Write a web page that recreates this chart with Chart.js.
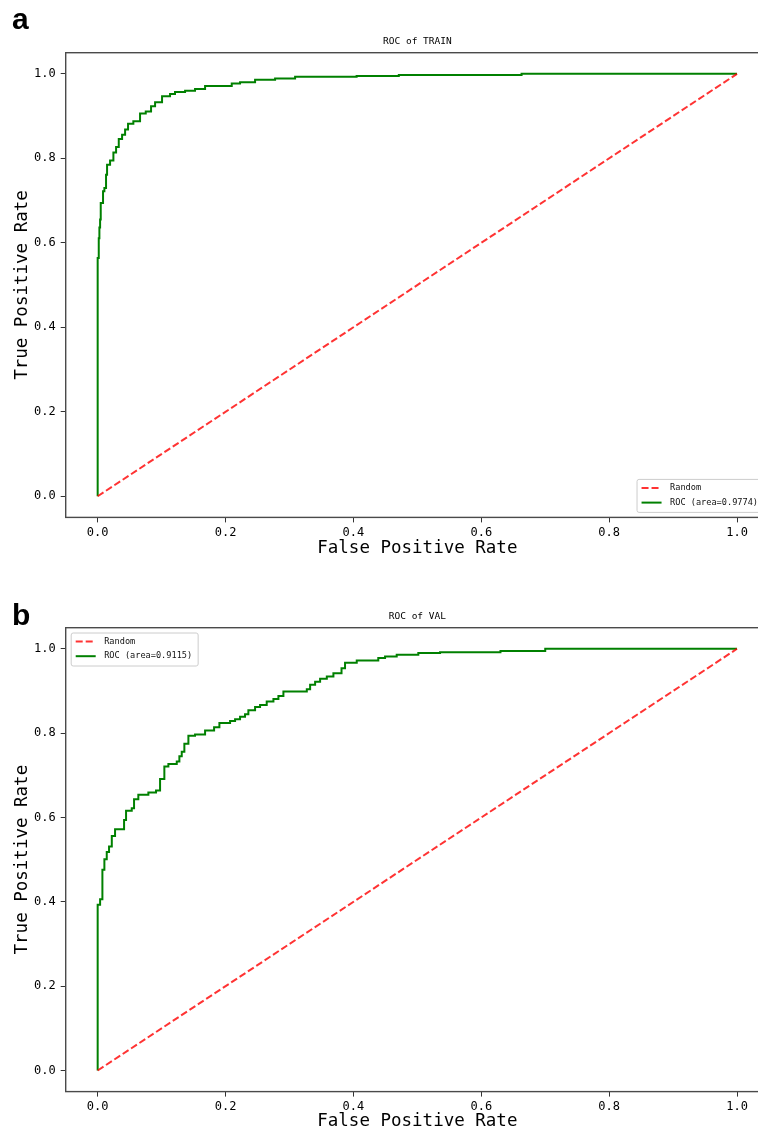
<!DOCTYPE html>
<html><head><meta charset="utf-8">
<script src="https://cdn.jsdelivr.net/npm/chart.js@4.4.0/dist/chart.umd.min.js"></script>
<style>
html,body{margin:0;padding:0;background:#fff;}
#wrap{width:758px;height:1132px;overflow:hidden;position:relative;background:#fff;}
canvas{position:absolute;left:0;}
</style></head><body>
<div id="wrap">
<canvas id="cA" width="772" height="566" style="top:0;width:772px;height:566px"></canvas>
<canvas id="cB" width="772" height="566" style="top:566px;width:772px;height:566px"></canvas>
</div>
<script>
// ---- data ----
const tickValues = [0, 0.2, 0.4, 0.6, 0.8, 1.0];
const tickLabels = ['0.0', '0.2', '0.4', '0.6', '0.8', '1.0'];
const randomFpr = [0, 1];
const randomTpr = [0, 1];
const trainFpr = [0, 0, 0.0017, 0.0027, 0.0038, 0.0048, 0.0084, 0.0105, 0.0131, 0.0147, 0.0194, 0.0246, 0.0288, 0.033, 0.0382, 0.0429, 0.0475, 0.0558, 0.0663, 0.0752, 0.0835, 0.0898, 0.1007, 0.1132, 0.121, 0.1367, 0.1523, 0.168, 0.2097, 0.2227, 0.2462, 0.2775, 0.3088, 0.405, 0.471, 0.663, 1.0];
const trainTpr = [0, 0.564, 0.611, 0.636, 0.655, 0.694, 0.722, 0.730, 0.761, 0.785, 0.795, 0.814, 0.827, 0.846, 0.856, 0.868, 0.882, 0.888, 0.906, 0.911, 0.923, 0.933, 0.947, 0.952, 0.957, 0.960, 0.964, 0.971, 0.977, 0.980, 0.986, 0.989, 0.993, 0.995, 0.997, 1.0, 1.0];
const valFpr = [0, 0, 0.0038, 0.0074, 0.0105, 0.0142, 0.0178, 0.0221, 0.0272, 0.0413, 0.0444, 0.0533, 0.0569, 0.0636, 0.0793, 0.0913, 0.0976, 0.1043, 0.1106, 0.1237, 0.1278, 0.1315, 0.1356, 0.1419, 0.1523, 0.168, 0.1821, 0.1904, 0.2071, 0.2149, 0.2227, 0.2305, 0.2357, 0.2462, 0.254, 0.2644, 0.2749, 0.2827, 0.2905, 0.3271, 0.3323, 0.3401, 0.3479, 0.3584, 0.3687, 0.3814, 0.3869, 0.4052, 0.4389, 0.4495, 0.4677, 0.5015, 0.5355, 0.63, 0.70, 1.0];
const valTpr = [0, 0.393, 0.406, 0.476, 0.501, 0.518, 0.531, 0.556, 0.572, 0.594, 0.616, 0.622, 0.643, 0.654, 0.659, 0.664, 0.691, 0.721, 0.727, 0.733, 0.745, 0.756, 0.775, 0.794, 0.797, 0.806, 0.814, 0.824, 0.829, 0.833, 0.839, 0.845, 0.854, 0.862, 0.867, 0.875, 0.881, 0.888, 0.899, 0.904, 0.915, 0.922, 0.929, 0.934, 0.942, 0.954, 0.967, 0.972, 0.978, 0.982, 0.986, 0.990, 0.992, 0.995, 1.0, 1.0];
const trainAuc = '0.9774';
const valAuc = '0.9115';

const MONO = '"DejaVu Sans Mono", "Liberation Mono", monospace';
const toPts = (xs, ys) => xs.map((x, i) => ({x: x, y: ys[i]}));

const framePlugin = {
  id: 'frame',
  afterDraw(chart, args, opts) {
    const ctx = chart.ctx, a = chart.chartArea;
    ctx.save();
    // spines
    ctx.strokeStyle = '#4a4a4a';
    ctx.lineWidth = 1.4;
    ctx.setLineDash([]);
    ctx.strokeRect(a.left, a.top, a.right - a.left, a.bottom - a.top);
    // legend
    ctx.font = '8.6px ' + MONO;
    const ds = chart.data.datasets;
    const tw = Math.max(...ds.map(d => ctx.measureText(d.label).width));
    const w = 33 + tw + 6, h = 33;
    let x0, y0;
    if (opts.legendPos === 'lower right') { x0 = a.right - 5 - w; y0 = a.bottom - 5 - h; }
    else { x0 = a.left + 5.5; y0 = a.top + 5.3; }
    ctx.beginPath();
    if (ctx.roundRect) ctx.roundRect(x0, y0, w, h, 2); else ctx.rect(x0, y0, w, h);
    ctx.fillStyle = 'rgba(255,255,255,0.85)';
    ctx.fill();
    ctx.strokeStyle = '#cccccc';
    ctx.lineWidth = 1;
    ctx.stroke();
    ds.forEach((d, i) => {
      const yy = y0 + 8.6 + i * 14.6;
      ctx.beginPath();
      ctx.setLineDash(d.borderDash || []);
      ctx.strokeStyle = d.borderColor;
      ctx.lineWidth = d.borderWidth;
      ctx.moveTo(x0 + 4.5, yy);
      ctx.lineTo(x0 + 24.5, yy);
      ctx.stroke();
      ctx.setLineDash([]);
      ctx.fillStyle = '#111';
      ctx.textBaseline = 'middle';
      ctx.textAlign = 'left';
      ctx.fillText(d.label, x0 + 33, yy);
    });
    // panel letter
    ctx.fillStyle = '#000';
    ctx.font = 'bold 30px "Liberation Sans", Arial, sans-serif';
    ctx.textBaseline = 'alphabetic';
    ctx.fillText(opts.letter, 12, opts.letterY);
    ctx.restore();
  }
};

function makeChart(id, c) {
  return new Chart(document.getElementById(id), {
    type: 'scatter',
    data: {
      datasets: [
        {label: 'Random', data: toPts(randomFpr, randomTpr), showLine: true, borderColor: 'rgba(255,0,0,0.8)', borderWidth: 2, borderDash: [7, 3], pointRadius: 0, tension: 0},
        {label: 'ROC (area=' + c.auc + ')', data: toPts(c.fpr, c.tpr), showLine: true, stepped: true, borderColor: '#008000', borderWidth: 2, pointRadius: 0, tension: 0}
      ]
    },
    options: {
      responsive: false,
      devicePixelRatio: 1,
      animation: false,
      layout: {padding: {left: 0, right: 3, top: 0, bottom: 0}},
      plugins: {
        legend: {display: false},
        tooltip: {enabled: false},
        title: {display: true, fullSize: false, text: c.title, color: '#000', font: {family: MONO, size: 9.5, weight: 'normal', lineHeight: 1.2}, padding: {top: c.titleTop, bottom: c.titleBottom}},
        frame: {legendPos: c.legendPos, letter: c.letter, letterY: c.letterY}
      },
      scales: {
        x: {
          type: 'linear', min: -0.05, max: 1.05,
          afterBuildTicks: s => { s.ticks = tickValues.map(v => ({value: v})); },
          afterFit: s => { s.height = c.xHeight; },
          ticks: {callback: (v, i) => tickLabels[i], color: '#000', font: {family: MONO, size: 12}, padding: 3, maxRotation: 0, autoSkip: false},
          grid: {drawOnChartArea: false, drawTicks: true, tickLength: 5, tickColor: '#333', tickWidth: 1},
          border: {display: false},
          title: {display: true, text: 'False Positive Rate', color: '#000', font: {family: MONO, size: 17.5, lineHeight: 1.2}, padding: {top: 0, bottom: c.xTitlePad}}
        },
        y: {
          type: 'linear', min: -0.05, max: 1.05,
          afterBuildTicks: s => { s.ticks = tickValues.map(v => ({value: v})); },
          afterFit: s => { s.width = 65.7; },
          ticks: {callback: (v, i) => tickLabels[i], color: '#000', font: {family: MONO, size: 12}, padding: 5, autoSkip: false},
          grid: {drawOnChartArea: false, drawTicks: true, tickLength: 5, tickColor: '#333', tickWidth: 1},
          border: {display: false},
          title: {display: true, text: 'True Positive Rate', color: '#000', font: {family: MONO, size: 17.5, lineHeight: 1.2}, padding: {top: 12, bottom: 0}}
        }
      }
    },
    plugins: [framePlugin]
  });
}

makeChart('cA', {title: 'ROC of TRAIN', auc: trainAuc, fpr: trainFpr, tpr: trainTpr, titleTop: 36.3, titleBottom: 5.0, xHeight: 48.6, xTitlePad: 7.5, legendPos: 'lower right', letter: 'a', letterY: 29});
makeChart('cB', {title: 'ROC of VAL', auc: valAuc, fpr: valFpr, tpr: valTpr, titleTop: 45.3, titleBottom: 5.0, xHeight: 40.4, xTitlePad: 0.5, legendPos: 'upper left', letter: 'b', letterY: 59});
</script>
</body></html>
